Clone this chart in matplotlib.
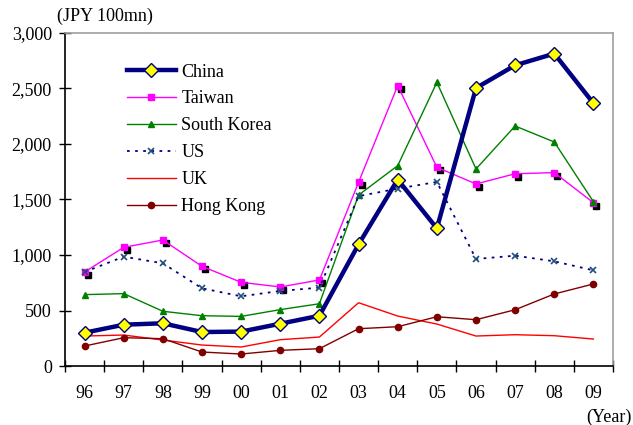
import numpy as np
import matplotlib
matplotlib.use('Agg')
import matplotlib.pyplot as plt
from matplotlib.transforms import offset_copy

plt.rcParams['font.family'] = ['Liberation Serif', 'DejaVu Serif']

# Direct investment by country/region (JPY 100mn)
years = ['96', '97', '98', '99', '00', '01', '02', '03', '04', '05', '06', '07', '08', '09']
china = [300, 372, 385, 306, 310, 381, 453, 1096, 1680, 1240, 2504, 2709, 2814, 2367]
taiwan = [847, 1069, 1135, 898, 754, 712, 775, 1655, 2526, 1790, 1640, 1732, 1742, 1471]
south_korea = [643, 652, 493, 453, 447, 508, 561, 1540, 1805, 2555, 1775, 2162, 2018, 1480]
us = [847, 985, 925, 700, 628, 676, 706, 1530, 1598, 1658, 964, 994, 943, 862]
uk = [270, 279, 234, 189, 171, 237, 261, 570, 450, 378, 270, 282, 273, 243]
hong_kong = [180, 255, 246, 126, 108, 141, 156, 336, 354, 444, 417, 507, 649, 739]

x = np.arange(len(years))

fig = plt.figure(figsize=(6.33, 4.25), dpi=100)
ax = fig.add_axes([0.1027, 0.1388, 0.8657, 0.7836])

ax.plot(x, china, color='#000080', lw=3.2, marker='D', ms=7.5,
        mfc='#FFFF00', mec='#000080', mew=1.0, label='China', zorder=6)

# Taiwan markers carry a small black drop shadow
shadow = offset_copy(ax.transData, fig=fig, x=2.2, y=-2.2, units='points')
ax.plot(x, taiwan, ls='none', marker='s', ms=5, color='black',
        transform=shadow, zorder=3)
ax.plot(x, taiwan, color='#FF00FF', lw=1.0, marker='s', ms=5,
        label='Taiwan', zorder=4)

ax.plot(x, south_korea, color='#008000', lw=1.0, marker='^', ms=5,
        label='South Korea', zorder=4)
ax.plot(x, us, color='#000080', lw=1.3, ls=(0, (1.5, 3)), marker='x', ms=5,
        mec='#1F4E79', mew=1.2, label='US', zorder=4)
ax.plot(x, uk, color='#FF0000', lw=1.0, label='UK', zorder=4)
ax.plot(x, hong_kong, color='#800000', lw=1.0, marker='o', ms=4.5,
        label='Hong Kong', zorder=5)

ax.set_xlim(-0.5, len(years) - 0.5)
ax.set_ylim(0, 3000)
ax.set_yticks(np.arange(0, 3001, 500))
ax.set_yticklabels(['{:,}'.format(v) for v in range(0, 3001, 500)])

# ticks on category boundaries, labels at centres
ax.set_xticks(np.arange(-0.5, len(years), 1.0))
ax.set_xticklabels([])
ax.set_xticks(x, minor=True)
ax.set_xticklabels(years, minor=True)
ax.tick_params(axis='x', which='major', direction='inout', length=9, width=1)
ax.tick_params(axis='x', which='minor', length=0, pad=14, labelsize=13)
ax.tick_params(axis='y', direction='inout', length=9, width=1, pad=5,
               labelsize=13)

for side in ['top', 'right']:
    ax.spines[side].set_color('#A0A0A0')
    ax.spines[side].set_linewidth(1.2)
for side in ['left', 'bottom']:
    ax.spines[side].set_color('black')
    ax.spines[side].set_linewidth(1.2)

ax.legend(loc='upper left', bbox_to_anchor=(0.10, 0.93), frameon=False,
          fontsize=13, numpoints=1, handlelength=2.7, handletextpad=0.3,
          labelspacing=0.55, borderaxespad=0)

fig.text(0.09, 0.962, '(JPY 100mn)', fontsize=13, va='center')
fig.text(0.998, 0.018, '(Year)', fontsize=13, ha='right', va='center')

fig.savefig('out.png', dpi=100)
